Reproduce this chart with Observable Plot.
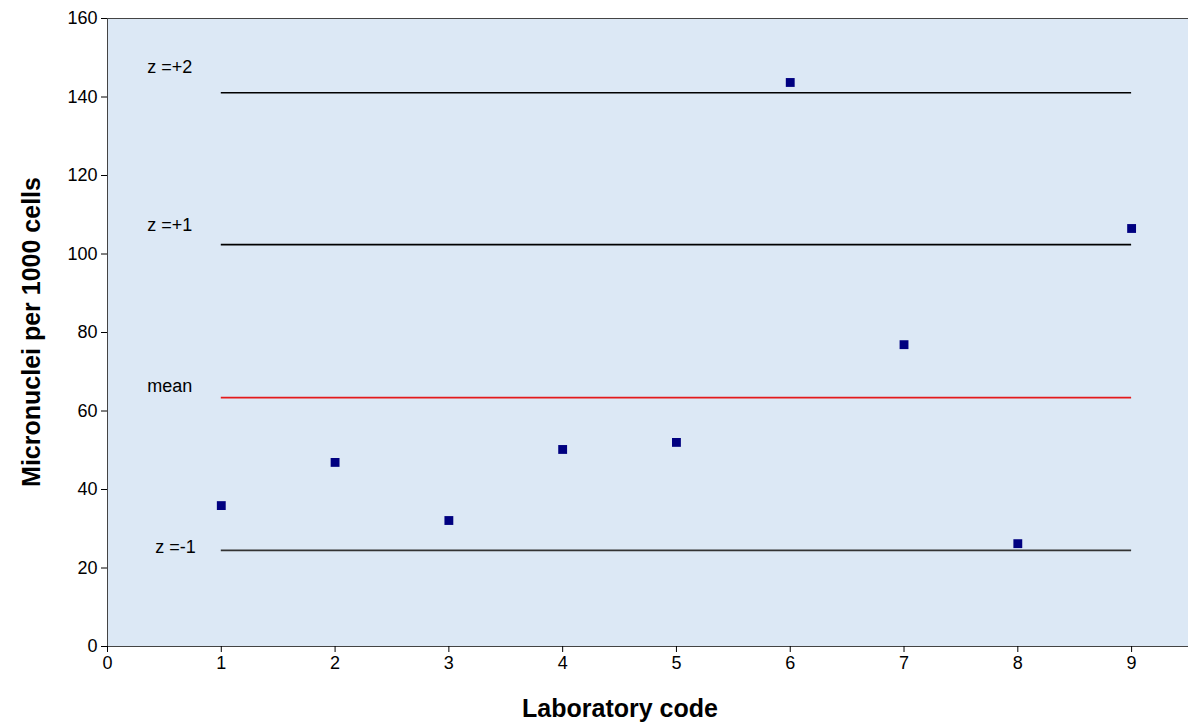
<!DOCTYPE html>
<html><head><meta charset="utf-8">
<script src="https://cdn.jsdelivr.net/npm/d3@7"></script>
<script src="https://cdn.jsdelivr.net/npm/@observablehq/plot@0.6"></script>
<style>body{margin:0;background:#fff;font-family:"Liberation Sans",Arial,sans-serif}</style>
</head><body><div id="chart"></div>
<script>
const labs = [1, 2, 3, 4, 5, 6, 7, 8, 9];
const micronuclei = [35.9, 46.9, 32.1, 50.2, 52.0, 143.7, 76.9, 26.2, 106.5];
const refNames = ["z =+2", "z =+1", "mean", "z =-1"];
const refValues = [141.1, 102.4, 63.4, 24.5];
const refColors = ["#000", "#000", "#e41a1c", "#333"];
const labelOffsets = [-25, -19, -11, -3];

const pts = labs.map((l, i) => ({ lab: l, v: micronuclei[i] }));
const refs = refNames.map((n, i) => ({ name: n, v: refValues[i], color: refColors[i] }));

const chart = Plot.plot({
  width: 1188, height: 725,
  marginLeft: 107, marginRight: 0, marginTop: 18, marginBottom: 79,
  style: { fontFamily: "Liberation Sans, Arial, sans-serif", fontSize: "18px", color: "#000", background: "#fff" },
  x: { domain: [0, 9.5], label: null },
  y: { domain: [0, 160], label: null },
  marks: [
    Plot.frame({ fill: "#dce8f5", stroke: "#444" }),
    Plot.axisX({ ticks: d3.range(0, 10), tickSize: 6, tickPadding: 4, label: null, fontSize: 18 }),
    Plot.axisY({ ticks: d3.range(0, 161, 20), tickSize: 6, tickPadding: 4, label: null, fontSize: 18 }),
    Plot.ruleY(refs, { y: "v", x1: 1, x2: 9, stroke: "color", strokeWidth: 1.6 }),
    ...refs.map((d, i) => Plot.text([d], { y: "v", x: d.name === "z =-1" ? 0.42 : 0.35, text: "name",
      textAnchor: "start", dy: labelOffsets[i], fontSize: 18 })),
    Plot.dot(pts, { x: "lab", y: "v", symbol: "square", r: 5, fill: "#000080", stroke: "none" })
  ]
});
const svg = d3.select(chart);
svg.append("text").attr("x", 620).attr("y", 717).attr("text-anchor", "middle")
  .attr("font-size", 25).attr("font-weight", "bold").text("Laboratory code");
svg.append("text").attr("transform", "translate(40,332) rotate(-90)").attr("text-anchor", "middle")
  .attr("font-size", 25).attr("font-weight", "bold").text("Micronuclei per 1000 cells");
document.getElementById("chart").appendChild(chart);
</script></body></html>
